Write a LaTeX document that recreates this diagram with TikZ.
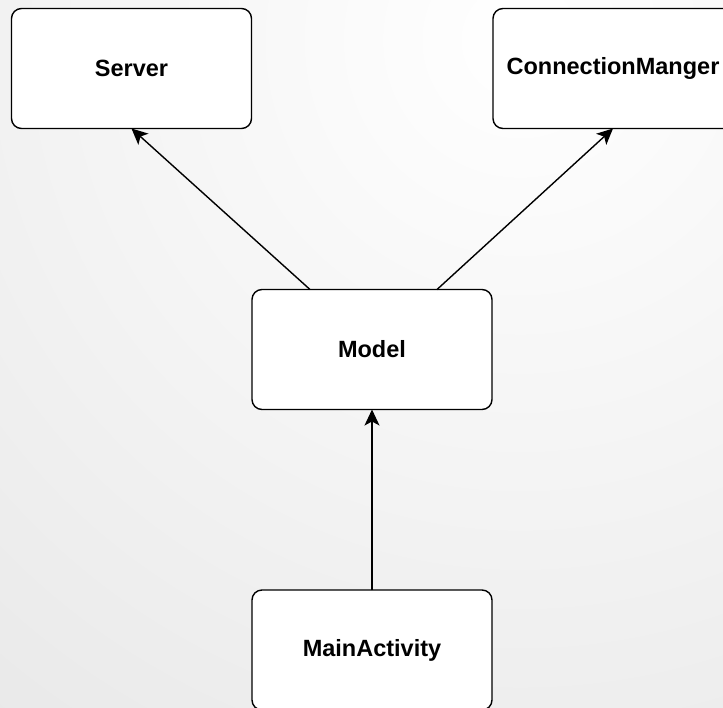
\documentclass[tikz,border=0pt]{standalone}
\usepackage{fontspec}
\setmainfont{Liberation Sans}
\usetikzlibrary{arrows.meta}
\tikzset{
  box/.style={draw=black, fill=white, line width=1.4pt, rounded corners=10pt,
    minimum width=240pt, minimum height=120pt, inner sep=0pt, outer sep=0pt,
    font=\fontsize{23.5}{28}\selectfont\bfseries},
  conn/.style={line width=1.4pt, -{Stealth[length=16pt,width=15pt,inset=4pt]}}
}
\begin{document}
\begin{tikzpicture}[x=1pt,y=-1pt]
\useasboundingbox (0,0) rectangle (723,707);
\begin{scope}
  \clip (0,0) rectangle (723,707);
  \fill[black!9] (0,0) rectangle (723,707);
  \shade[inner color=white, outer color=black!9] (520,40) circle (900);
\end{scope}
\node[box] (server) at (131.5,68.5) {Server};
\node[box] (cm) at (613,68.5) {ConnectionManger};
\node[box] (model) at (372,349.5) {Model};
\node[box] (main) at (372,650) {MainActivity};
\draw[conn] ([xshift=-62pt]model.north) -- (server.south);
\draw[conn] ([xshift=65pt]model.north) -- (cm.south);
\draw[conn] (main.north) -- (model.south);
\end{tikzpicture}
\end{document}
